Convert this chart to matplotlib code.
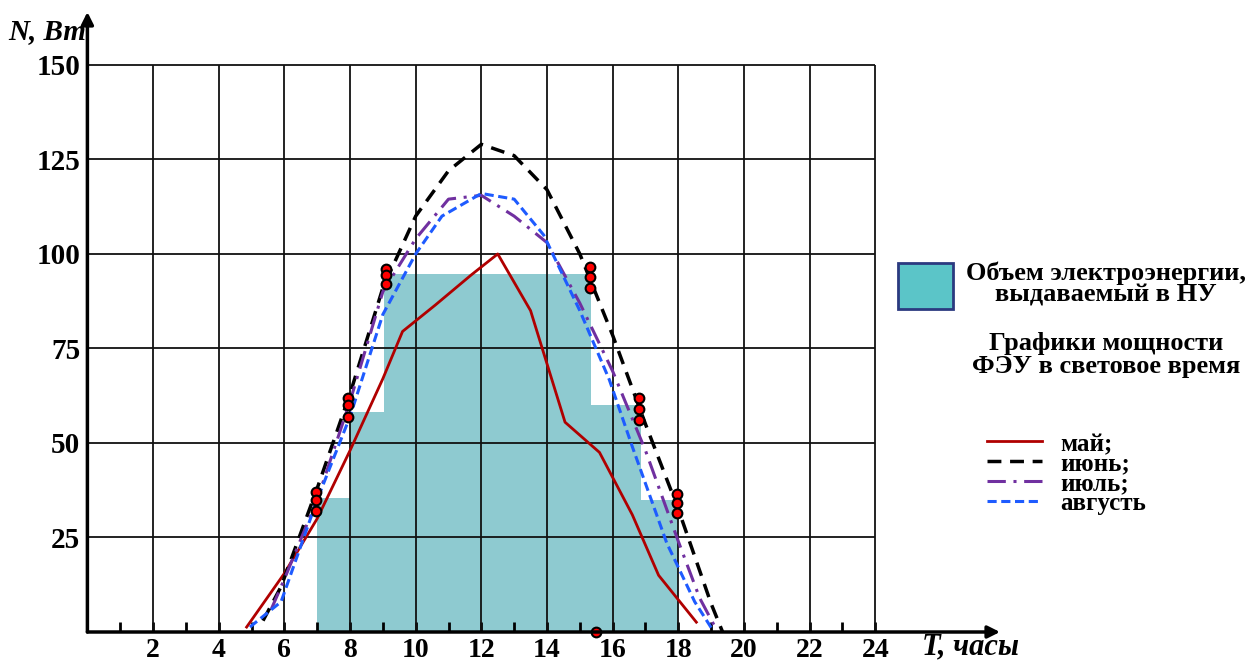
import matplotlib

# Без графического интерфейса
matplotlib.use("Agg")

import matplotlib.pyplot as plt
from matplotlib.lines import Line2D
from matplotlib.patches import Rectangle

# Часы светового дня и мощность ФЭУ по месяцам (Вт)
may_t = [4.85, 6, 7, 8, 9, 9.6, 10.6, 11.7, 12.5, 13.5, 14.55, 15.6, 16.6, 17.4, 18.55]
may_n = [1.3, 15.5, 30, 48, 67, 79.5, 86.5, 94.5, 100, 85, 55.5, 47.5, 31, 15, 2.6]

june_t = [5.35, 5.9, 7, 8, 9, 10, 11, 12, 13, 14, 15, 16, 17, 18, 19, 19.35]
june_n = [3, 12, 38, 63, 91, 110, 122, 129, 126, 117, 100, 78.5, 55, 32.5, 7.5, 0]

july_t = [5.6, 6, 7, 8, 9, 10, 11, 12, 13, 14, 15, 16, 17, 18, 18.65, 19.2]
july_n = [6, 14, 35, 61, 90, 104, 114.5, 115.5, 110, 103, 87, 69, 48, 24, 9, 0]

aug_t = [4.95, 5.9, 7, 8, 9, 10, 10.8, 12, 13, 13.9, 15, 15.9, 16.6, 17.65, 18.5, 19.05]
aug_n = [1.3, 8, 35, 57, 84, 100, 110, 116, 114.5, 105, 85, 66.7, 49, 23.5, 8, 0.5]

# Ступенчатый объем электроэнергии, выдаваемый в НУ
step_t = [7, 8, 9.05, 15.35, 16.85, 18]
step_n = [35.4, 58.2, 94.6, 60, 35, 35]

# Отмеченные точки
dots_t = [6.95, 6.95, 6.95, 7.95, 7.95, 7.95, 9.1, 9.1, 9.1,
          15.3, 15.3, 15.3, 16.8, 16.8, 16.8, 17.95, 17.95, 17.95, 15.5]
dots_n = [37, 35, 32, 62, 60, 57, 96, 94.4, 92,
          96.6, 94, 91, 62, 59, 56, 36.5, 34, 31.5, 0]

months = ["май;", "июнь;", "июль;", "августь"]

x_ticks = list(range(2, 25, 2))
y_ticks = [25, 50, 75, 100, 125, 150]

serif = "Liberation Serif"

fig = plt.figure(figsize=(12.55, 6.62), dpi=100)

# Оси: x=0 -> 87.4 px, y=0 -> 632 px
ax = fig.add_axes([87.4 / 1255, 30 / 662, 912.6 / 1255, 620 / 662])
ax.set_xlim(0, 27.8)
ax.set_ylim(0, 164)
for s in ax.spines.values():
    s.set_visible(False)

# Заливка
ax.fill_between(step_t, step_n, step="post", color="#8ECAD0",
                linewidth=0, zorder=1)

# Сетка
ax.hlines(y_ticks, 0, 24, color="#111111", linewidth=1.3, zorder=2)
ax.vlines(x_ticks, 0, 150, color="#111111", linewidth=1.3, zorder=2)

# Графики
ax.plot(may_t, may_n, color="#B00000", linewidth=2.0, zorder=4)
ax.plot(june_t, june_n, color="black", linewidth=2.5,
        linestyle=(0, (4, 2.5)), zorder=4)
ax.plot(july_t, july_n, color="#7030A0", linewidth=2.2,
        linestyle=(0, (6, 2.5, 1, 2.5)), zorder=4)
ax.plot(aug_t, aug_n, color="#1E5BFF", linewidth=2.2,
        linestyle=(0, (3, 1.5)), zorder=4)

ax.plot(dots_t, dots_n, linestyle="none", marker="o", markersize=7,
        markerfacecolor="#FF0000", markeredgecolor="black",
        markeredgewidth=1.5, zorder=6, clip_on=False)

# Стрелки осей
ax.annotate("", xy=(27.8, 0), xytext=(0, 0), xycoords="data",
            arrowprops=dict(arrowstyle="-|>", color="black", lw=2.5,
                            mutation_scale=18, shrinkA=0, shrinkB=0),
            annotation_clip=False, zorder=7)
ax.annotate("", xy=(0, 164), xytext=(0, 0), xycoords="data",
            arrowprops=dict(arrowstyle="-|>", color="black", lw=2.5,
                            mutation_scale=18, shrinkA=0, shrinkB=0),
            annotation_clip=False, zorder=7)

# Деления
ax.set_xticks(x_ticks)
ax.set_xticklabels([str(t) for t in x_ticks])
ax.set_xticks(list(range(1, 24, 2)), minor=True)
ax.set_yticks(y_ticks)
ax.set_yticklabels([str(t) for t in y_ticks])
ax.tick_params(axis="x", which="both", direction="in", length=7, width=2,
               pad=4, labelsize=20)
ax.tick_params(axis="y", length=0, pad=5, labelsize=21)
for lab in ax.get_xticklabels() + ax.get_yticklabels():
    lab.set_fontfamily(serif)
    lab.set_fontweight("bold")

# Подписи осей
fig.text(8 / 1255, 1 - 32 / 662, "N, Вт", family=serif, style="italic",
         weight="bold", fontsize=21, va="center", ha="left")
fig.text(922 / 1255, 1 - 647 / 662, "T, часы", family=serif, style="italic",
         weight="bold", fontsize=22, va="center", ha="left")

# Легенда
lg = fig.add_axes([0, 0, 1, 1])
lg.set_xlim(0, 1255)
lg.set_ylim(662, 0)
lg.axis("off")
lg.patch.set_alpha(0)

lg.add_patch(Rectangle((898, 263), 55, 46, facecolor="#5BC5C8",
                       edgecolor="#2B3A80", linewidth=2))
tkw = dict(family=serif, weight="bold", fontsize=19, ha="center",
           va="center", linespacing=0.95)
lg.text(1106, 284, "Объем электроэнергии,\nвыдаваемый в НУ", **tkw)
lg.text(1106, 355, "Графики мощности\nФЭУ в световое время", **tkw)

lg.add_line(Line2D([987, 1042], [441, 441], color="#B00000", linewidth=2.0))
lg.add_line(Line2D([987, 1042], [461, 461], color="black", linewidth=2.5,
                   linestyle=(0, (4, 2.5))))
lg.add_line(Line2D([987, 1042], [481, 481], color="#7030A0", linewidth=2.2,
                   linestyle=(0, (6, 2.5, 1, 2.5))))
lg.add_line(Line2D([987, 1042], [501, 501], color="#1E5BFF", linewidth=2.2,
                   linestyle=(0, (3, 1.5))))
lg.text(1060, 474, "\n".join(months), family=serif, weight="bold",
        fontsize=18, ha="left", va="center", linespacing=0.8)

plt.savefig("out.png", dpi=100)
plt.close()
